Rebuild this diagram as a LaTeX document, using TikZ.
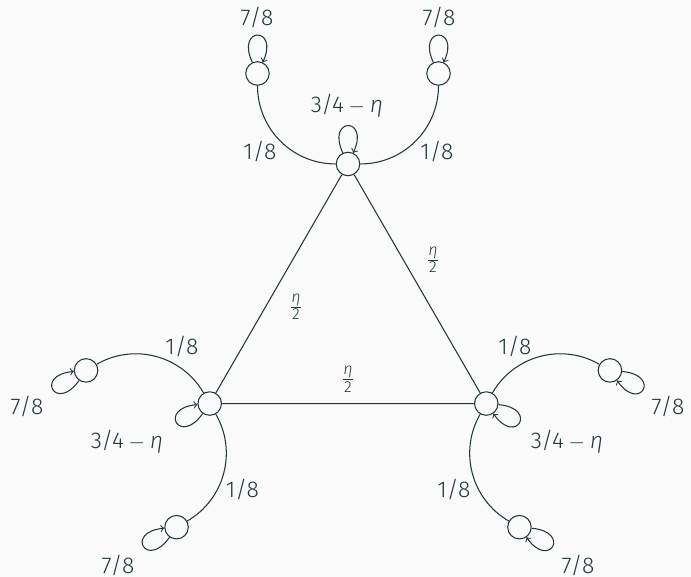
\documentclass[tikz,border=0pt]{standalone}
\usepackage{amsmath}
\usepackage{fontspec}
\IfFontExistsTF{Fira Sans Light}{\setmainfont{Fira Sans Light}}{\setmainfont{Fira Sans}}
\usetikzlibrary{calc}
\definecolor{mteal}{HTML}{23373B}
\definecolor{mbg}{HTML}{FAFAFA}

\begin{document}
\begin{tikzpicture}[x=0.02cm,y=0.02cm,font=\fontsize{13}{15}\selectfont,
    color=mteal,semithick,
    vtx/.style={circle,draw,minimum size=0.47cm,inner sep=0pt},
    selfloop/.style={loop,->,min distance=8mm,looseness=6}]
  \fill[mbg] (0,0) rectangle (691,577);
  \useasboundingbox (0,0) rectangle (691,577);
  \coordinate (o) at (348,253.3);
  % one fan per corner of the triangle, turned by 120 degrees each time
  \foreach \i/\a in {1/90,2/210,3/330}{
    \pgfmathsetmacro\al{\a+45}
    \pgfmathsetmacro\ar{\a-45}
    \pgfmathsetmacro\lo{\a+25}
    \pgfmathsetmacro\li{\a-25}
    \node[vtx] (c\i) at ($(o)+(\a:159.7)$) {};
    \node[vtx] (p\i) at ($(c\i)+(\al:128)$) {};
    \node[vtx] (q\i) at ($(c\i)+(\ar:128)$) {};
    \draw (c\i) to[bend left=45] (p\i);
    \draw (c\i) to[bend right=45] (q\i);
    \foreach \v in {c,p,q}
      \draw[->] (\v\i) edge[selfloop,out=\lo,in=\li] (\v\i);
  }
  \draw (c1) -- (c2) -- (c3) -- (c1);
  % weights
  \node (w1) at (257,559.5) {7/8};
  \node (w2) at (439,559.5) {7/8};
  \node (w3) at (347,471) {3/4${}-{}$\textit{η}};
  \node (w4) at (260,425.3) {1/8};
  \node (w5) at (437,425.3) {1/8};
  \node (w6) at (182,230.3) {1/8};
  \node (w7) at (27,170.3) {7/8};
  \node (w8) at (127,135.3) {3/4${}-{}$\textit{η}};
  \node (w9) at (242.5,87.8) {1/8};
  \node (w10) at (118,12) {7/8};
  \node (w11) at (515,230.3) {1/8};
  \node (w12) at (668,170.3) {7/8};
  \node (w13) at (567,135.3) {3/4${}-{}$\textit{η}};
  \node (w14) at (454,87.8) {1/8};
  \node (w15) at (578,12) {7/8};
  \node (e1) at (296,270.3) {$\frac{\text{\itshape η}}{\text{2}}$};
  \node (e2) at (433,317) {$\frac{\text{\itshape η}}{\text{2}}$};
  \node (e3) at (348,197.7) {$\frac{\text{\itshape η}}{\text{2}}$};
\end{tikzpicture}
\end{document}
